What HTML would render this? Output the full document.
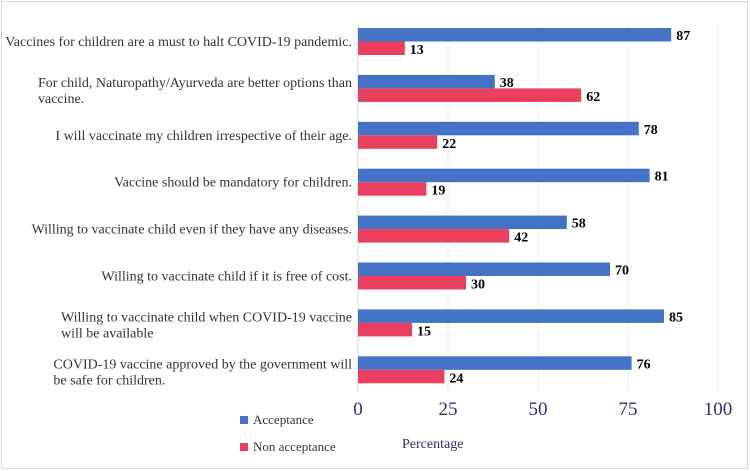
<!DOCTYPE html>
<html><head><meta charset="utf-8"><style>
body{margin:0;background:#fff;}
svg{display:block;font-family:"Liberation Serif",serif;}
</style></head><body>
<svg width="750" height="471">
<rect x="1.5" y="1.5" width="746" height="467" fill="#fff" stroke="#d9d9d9"/>
<g id="grid"></g>
<line x1="358" y1="25" x2="358" y2="392" stroke="#d9d9d9"/>
<g id="bars"></g>
<g id="labels"></g>
<g id="ticks"></g>
<text x="402" y="448" font-size="14" fill="#2e2f6e">Percentage</text>
<rect x="240" y="416" width="8" height="8" fill="#4472c4"/>
<text x="253" y="424" font-size="13" fill="#333">Acceptance</text>
<rect x="240" y="443" width="8" height="8" fill="#e9405f"/>
<text x="253" y="451" font-size="13" fill="#333">Non acceptance</text>
</svg>
<script>
const categories=[
["Vaccines for children are a must to halt COVID-19 pandemic."],
["For child, Naturopathy/Ayurveda are better options than","vaccine."],
["I will vaccinate my children irrespective of their age."],
["Vaccine should be mandatory for children."],
["Willing to vaccinate child even if they have any diseases."],
["Willing to vaccinate child if it is free of cost."],
["Willing to vaccinate child when COVID-19 vaccine","will be available"],
["COVID-19 vaccine approved by the government will","be safe for children."]];
const acceptance=[87,38,78,81,58,70,85,76];
const nonAcceptance=[13,62,22,19,42,30,15,24];
const ticks=[0,25,50,75,100];
const NS="http://www.w3.org/2000/svg";
const x=v=>358+v*3.6;
const yTop=i=>28+i*46.9;
function mk(tag,attrs,parent){const e=document.createElementNS(NS,tag);for(const k in attrs)e.setAttribute(k,attrs[k]);document.getElementById(parent).appendChild(e);return e;}
ticks.forEach(t=>{
  if(t>0){const g=mk('line',{x1:x(t),x2:x(t),y1:25,y2:392,stroke:'#eeeeee'},'grid');
  
  }
  const tx=mk('text',{x:x(t),y:415,'font-size':19,fill:'#2e2f6e','text-anchor':'middle'},'ticks');
  tx.textContent=t;
  
  
});
categories.forEach((lines,i)=>{
  const y=yTop(i);
  const b=mk('rect',{x:358,y:y,width:x(acceptance[i])-358,height:13.5,fill:'#4472c4'},'bars');
  
  
  const r=mk('rect',{x:358,y:y+13.5,width:x(nonAcceptance[i])-358,height:13.5,fill:'#e9405f'},'bars');
  
  
  const t1=mk('text',{x:x(acceptance[i])+5,y:y+12,'font-size':14,'font-weight':'bold',fill:'#000'},'bars');
  t1.textContent=acceptance[i];
  
  
  const t2=mk('text',{x:x(nonAcceptance[i])+5,y:y+26,'font-size':14,'font-weight':'bold',fill:'#000'},'bars');
  t2.textContent=nonAcceptance[i];
  
  
  let l;
  if(lines.length===1){
    l=mk('text',{x:352,y:y+18,'font-size':14,fill:'#333','text-anchor':'end'},'labels');
    l.textContent=lines[0];
  } else {
    l=mk('text',{'font-size':14,fill:'#333'},'labels');
    l.textContent=lines[0];
    const w=l.getComputedTextLength();
    l.textContent='';
    lines.forEach((s,j)=>{const ts=document.createElementNS(NS,'tspan');ts.setAttribute('x',352-w);ts.setAttribute('y',y+12+j*16);ts.textContent=s;l.appendChild(ts);});
  }
  
  
});
</script>
</body></html>
